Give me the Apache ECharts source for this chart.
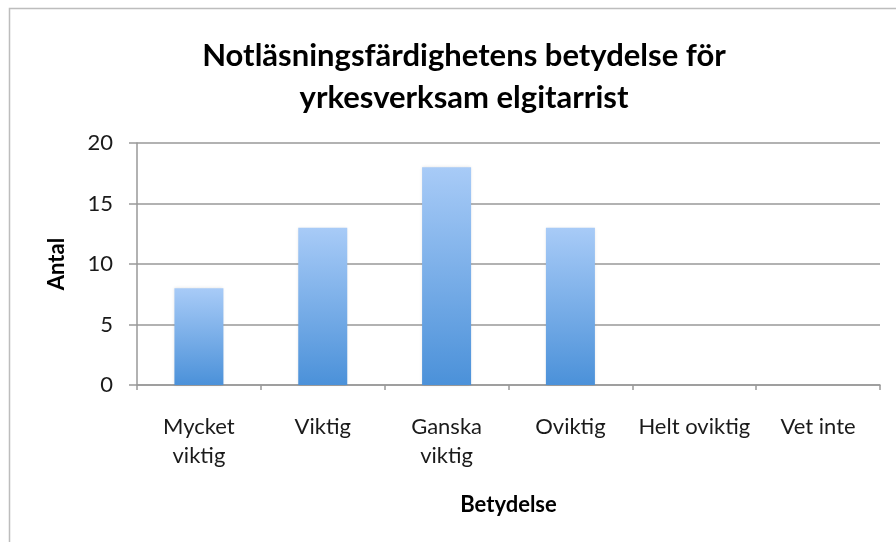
<!DOCTYPE html>
<html>
<head>
<meta charset="utf-8">
<script src="https://cdn.jsdelivr.net/npm/echarts@6/dist/echarts.min.js"></script>
<style>
  html, body { margin: 0; padding: 0; background: #fff; }
  #chart { width: 896px; height: 542px; }
</style>
</head>
<body>
<div id="chart"></div>
<script>
const categories = ['Mycket\nviktig', 'Viktig', 'Ganska\nviktig', 'Oviktig', 'Helt oviktig', 'Vet inte'];
const counts = [8, 13, 18, 13, 0, 0];
const yTicks = { min: 0, max: 20, interval: 5 };

const font = 'Lato, "Open Sans", sans-serif';
const gridColor = '#999999';

const chart = echarts.init(document.getElementById('chart'), null, { renderer: 'canvas' });
chart.setOption({
  backgroundColor: '#fff',
  animation: false,
  graphic: [{
    type: 'rect', silent: true,
    shape: { x: 9.5, y: 8.5, width: 1000, height: 700 },
    style: { fill: 'none', stroke: '#bdbdbd', lineWidth: 1.5 }
  }],
  title: {
    text: 'Notläsningsfärdighetens betydelse för\nyrkesverksam elgitarrist',
    left: 459, top: 30, textAlign: 'center',
    textStyle: { fontFamily: font, fontWeight: 'bold', fontSize: 31, lineHeight: 42, color: '#000' }
  },
  grid: { left: 137, right: 16, top: 143, bottom: 157 },
  xAxis: {
    type: 'category', data: categories,
    name: 'Betydelse', nameLocation: 'middle', nameGap: 109,
    nameTextStyle: { fontFamily: font, fontWeight: 'bold', fontSize: 22, color: '#000' },
    axisLine: { lineStyle: { color: gridColor, width: 1.5 } },
    axisTick: { show: true, length: 5, lineStyle: { color: gridColor, width: 1.5 } },
    axisLabel: { fontFamily: font, fontSize: 22, lineHeight: 29, color: '#1a1a1a', margin: 27, interval: 0 },
    splitLine: { show: false }
  },
  yAxis: {
    type: 'value', min: yTicks.min, max: yTicks.max, interval: yTicks.interval,
    name: 'Antal', nameLocation: 'middle', nameGap: 69,
    nameTextStyle: { fontFamily: font, fontWeight: 'bold', fontSize: 22, color: '#000' },
    axisLine: { show: true, lineStyle: { color: gridColor, width: 1.5 } },
    axisTick: { show: true, length: 8, lineStyle: { color: gridColor, width: 1.5 } },
    axisLabel: { fontFamily: font, fontSize: 22, color: '#1a1a1a', margin: 24 },
    splitLine: { lineStyle: { color: gridColor, width: 1.5 } }
  },
  series: [{
    type: 'bar', data: counts, barWidth: 49,
    itemStyle: {
      color: new echarts.graphic.LinearGradient(0, 0, 0, 1, [
        { offset: 0, color: '#a8cbf7' },
        { offset: 1, color: '#4b91d9' }
      ]),
      shadowColor: 'rgba(0,0,0,0.12)', shadowBlur: 3
    }
  }]
});
</script>
</body>
</html>
